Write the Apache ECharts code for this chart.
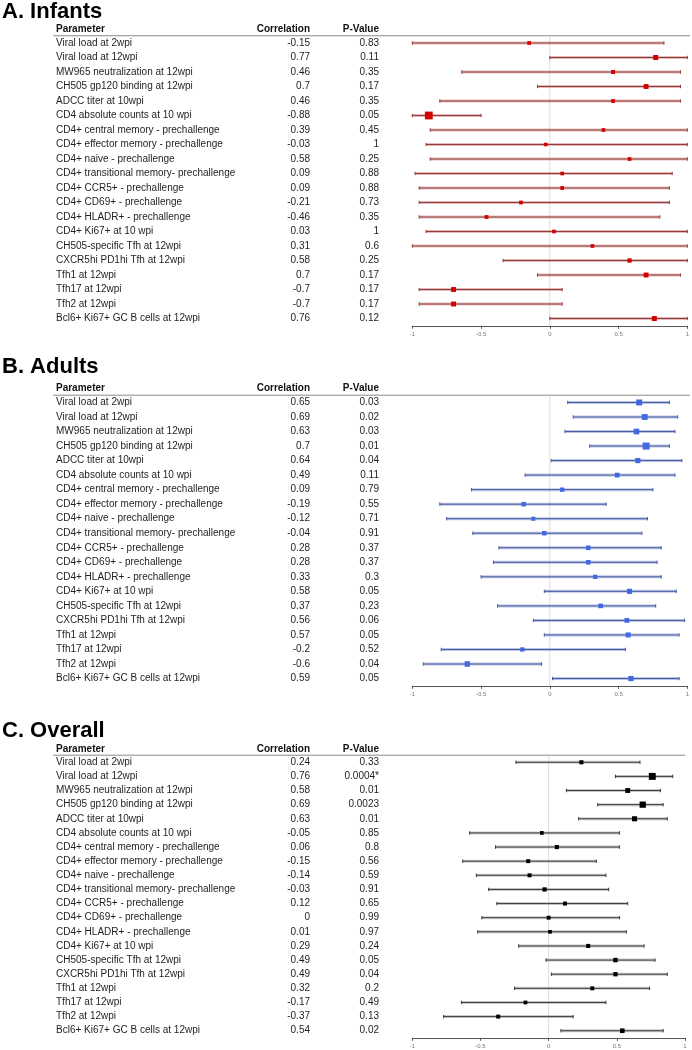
<!DOCTYPE html>
<html><head><meta charset="utf-8">
<script src="https://cdn.jsdelivr.net/npm/echarts@6/dist/echarts.min.js"></script>
<style>html,body{margin:0;padding:0;background:#fff}#c{width:692px;height:1050px}</style>
</head><body><div id="c"></div>
<script>
const params = ["Viral load at 2wpi","Viral load at 12wpi","MW965 neutralization at 12wpi","CH505 gp120 binding at 12wpi","ADCC titer at 10wpi","CD4 absolute counts at 10 wpi","CD4+ central memory - prechallenge","CD4+ effector memory - prechallenge","CD4+ naive - prechallenge","CD4+ transitional memory- prechallenge","CD4+ CCR5+ - prechallenge","CD4+ CD69+ - prechallenge","CD4+ HLADR+ - prechallenge","CD4+ Ki67+ at 10 wpi","CH505-specific Tfh at 12wpi","CXCR5hi PD1hi Tfh at 12wpi","Tfh1 at 12wpi","Tfh17 at 12wpi","Tfh2 at 12wpi","Bcl6+ Ki67+ GC B cells at 12wpi"];
const tickLabels = ["-1","-0.5","0","0.5","1"];

const corrA = [-0.15,0.77,0.46,0.7,0.46,-0.88,0.39,-0.03,0.58,0.09,0.09,-0.21,-0.46,0.03,0.31,0.58,0.7,-0.7,-0.7,0.76];
const pA = ["0.83","0.11","0.35","0.17","0.35","0.05","0.45","1","0.25","0.88","0.88","0.73","0.35","1","0.6","0.25","0.17","0.17","0.17","0.12"];
const loA = [-1.0,0.0,-0.64,-0.09,-0.80,-1.0,-0.87,-0.90,-0.87,-0.98,-0.95,-0.95,-0.95,-0.90,-1.0,-0.34,-0.09,-0.95,-0.95,0.0];
const hiA = [0.83,1,0.95,0.95,0.95,-0.50,1,1,1,0.89,0.87,0.87,0.80,1,1,1,0.95,0.09,0.09,1];

const corrB = [0.65,0.69,0.63,0.7,0.64,0.49,0.09,-0.19,-0.12,-0.04,0.28,0.28,0.33,0.58,0.37,0.56,0.57,-0.2,-0.6,0.59];
const pB = ["0.03","0.02","0.03","0.01","0.04","0.11","0.79","0.55","0.71","0.91","0.37","0.37","0.3","0.05","0.23","0.06","0.05","0.52","0.04","0.05"];
const loB = [0.13,0.17,0.11,0.29,0.01,-0.18,-0.57,-0.80,-0.75,-0.56,-0.37,-0.41,-0.50,-0.04,-0.38,-0.12,-0.04,-0.79,-0.92,0.02];
const hiB = [0.87,0.93,0.91,0.87,0.96,0.91,0.75,0.41,0.71,0.67,0.81,0.78,0.81,0.92,0.77,0.98,0.94,0.55,-0.06,0.94];

const corrC = [0.24,0.76,0.58,0.69,0.63,-0.05,0.06,-0.15,-0.14,-0.03,0.12,0,0.01,0.29,0.49,0.49,0.32,-0.17,-0.37,0.54];
const pC = ["0.33","0.0004*","0.01","0.0023","0.01","0.85","0.8","0.56","0.59","0.91","0.65","0.99","0.97","0.24","0.05","0.04","0.2","0.49","0.13","0.02"];
const loC = [-0.24,0.49,0.13,0.36,0.22,-0.58,-0.39,-0.63,-0.53,-0.44,-0.38,-0.49,-0.52,-0.22,-0.02,0.02,-0.25,-0.64,-0.77,0.09];
const hiC = [0.67,0.91,0.82,0.84,0.87,0.52,0.52,0.35,0.42,0.44,0.58,0.52,0.57,0.70,0.78,0.87,0.74,0.42,0.18,0.84];

const titles = ["A. Infants","B. Adults","C. Overall"];
const headers = ["Parameter","Correlation","P-Value"];

const FONT = '"Liberation Sans", Arial, Helvetica, sans-serif';
const panels = [
  {title:titles[0], corr:corrA, p:pA, lo:loA, hi:hiA, grid:{left:412.3,width:277.7,top:35.75,height:290}, titleY:12, headY:29, lineR:690,
   marker:'#d40000', core:'#8f3b3b', halo:'rgba(205,120,120,0.5)', scale:1},
  {title:titles[1], corr:corrB, p:pB, lo:loB, hi:hiB, grid:{left:412.3,width:277.7,top:395.2,height:290.6}, titleY:366.5, headY:388.3, lineR:690,
   marker:'#4169e1', core:'#4a5a9e', halo:'rgba(120,140,210,0.5)', scale:1},
  {title:titles[2], corr:corrC, p:pC, lo:loC, hi:hiC, grid:{left:412.3,width:272.7,top:755.2,height:282.6}, titleY:731, headY:749, lineR:685,
   marker:'#000000', core:'#3a3a3a', halo:'rgba(150,150,150,0.5)', scale:0.78}
];

function makeRender(pn) {
  return function (prm, api) {
    const idx = api.value(1);
    const c = api.coord([api.value(0), idx]);
    const l = api.coord([api.value(2), idx]);
    const h = api.coord([api.value(3), idx]);
    const z = api.coord([0, idx]);
    const band = api.size([0, 1])[1];
    const w = api.value(3) - api.value(2);
    const s = Math.min(9, pn.scale * (2.2 + 2.8 / w));
    const y = c[1];
    const txt = (t, x, align) => ({type:'text', x:x, y:y, style:{text:t, align:align, verticalAlign:'middle', fontSize:10, fontFamily:FONT, fill:'#1e1e1e'}});
    return {type:'group', children:[
      {type:'line', shape:{x1:z[0], y1:y-band/2, x2:z[0], y2:y+band/2}, style:{stroke:'#dcdcdc', lineWidth:1}},
      {type:'line', shape:{x1:l[0], y1:y, x2:h[0], y2:y}, style:{stroke:pn.halo, lineWidth:3}},
      {type:'line', shape:{x1:l[0], y1:y, x2:h[0], y2:y}, style:{stroke:pn.core, lineWidth:1}},
      {type:'line', shape:{x1:l[0], y1:y-1.7, x2:l[0], y2:y+1.7}, style:{stroke:pn.core, lineWidth:1}},
      {type:'line', shape:{x1:h[0], y1:y-1.7, x2:h[0], y2:y+1.7}, style:{stroke:pn.core, lineWidth:1}},
      {type:'rect', shape:{x:c[0]-s/2, y:y-s/2, width:s, height:s}, style:{fill:pn.marker}},
      txt(params[idx], 56, 'left'),
      txt(String(pn.corr[idx]), 310, 'right'),
      txt(pn.p[idx], 379, 'right')
    ]};
  };
}

const chart = echarts.init(document.getElementById('c'), null, {renderer:'canvas'});
const graphic = [];
panels.forEach((pn, k) => {
  graphic.push({type:'text', x:2, y:pn.titleY, style:{text:pn.title, align:'left', verticalAlign:'middle', fontSize:22, fontWeight:'bold', fontFamily:FONT, fill:'#000'}});
  graphic.push({type:'text', x:56, y:pn.headY, style:{text:headers[0], align:'left', verticalAlign:'middle', fontSize:10, fontWeight:'bold', fontFamily:FONT, fill:'#111'}});
  graphic.push({type:'text', x:310, y:pn.headY, style:{text:headers[1], align:'right', verticalAlign:'middle', fontSize:10, fontWeight:'bold', fontFamily:FONT, fill:'#111'}});
  graphic.push({type:'text', x:379, y:pn.headY, style:{text:headers[2], align:'right', verticalAlign:'middle', fontSize:10, fontWeight:'bold', fontFamily:FONT, fill:'#111'}});
  graphic.push({type:'line', shape:{x1:53, y1:pn.grid.top, x2:pn.lineR, y2:pn.grid.top}, style:{stroke:'#8a8a8a', lineWidth:1}});
});

chart.setOption({
  animation:false,
  backgroundColor:'#fff',
  grid: panels.map(pn => Object.assign({containLabel:false}, pn.grid)),
  xAxis: panels.map((pn, k) => ({
    gridIndex:k, type:'value', min:-1, max:1, interval:0.5,
    axisLine:{show:true, onZero:false, lineStyle:{color:'#555', width:1}},
    axisTick:{show:true, length:3, lineStyle:{color:'#555'}},
    splitLine:{show:false},
    axisLabel:{fontSize:6, color:'#777', margin:6, fontFamily:FONT, showMinLabel:true, showMaxLabel:true,
      formatter: v => tickLabels[Math.round((v + 1) * 2)]}
  })),
  yAxis: panels.map((pn, k) => ({gridIndex:k, type:'category', data:params, inverse:true, show:false})),
  series: panels.map((pn, k) => ({
    type:'custom', xAxisIndex:k, yAxisIndex:k, clip:false,
    encode:{x:[0,2,3], y:1},
    renderItem: makeRender(pn),
    data: pn.corr.map((v, i) => [v, i, pn.lo[i], pn.hi[i]])
  })),
  graphic: graphic
});
</script></body></html>
